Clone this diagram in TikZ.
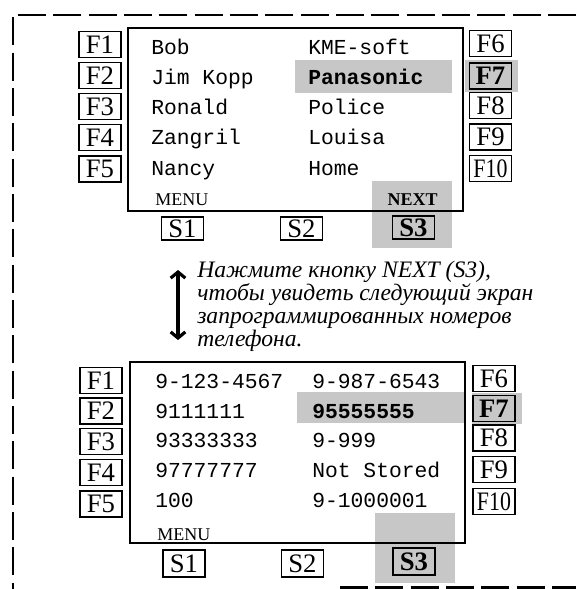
\documentclass[tikz,border=0pt]{standalone}
\usepackage{fontspec}
\setmainfont{Liberation Serif}
\setmonofont{Liberation Mono}
\usetikzlibrary{arrows.meta}
\begin{document}
\begin{tikzpicture}[x=0.75pt,y=-0.75pt,
  shadefill/.style={fill=black!22},
  screenbox/.style={draw,line width=1.8pt,inner sep=0pt},
  fkey/.style={draw,line width=1pt,inner sep=0pt,minimum width=31.5pt,minimum height=19.5pt,font=\fontsize{20}{20}\selectfont},
  skeyA/.style={draw,line width=1pt,inner sep=0pt,minimum width=31.5pt,minimum height=17.25pt,font=\fontsize{20}{20}\selectfont},
  skeyB/.style={draw,line width=1pt,inner sep=0pt,minimum width=31.5pt,minimum height=20.25pt,font=\fontsize{20}{20}\selectfont},
  mono/.style={anchor=base west,inner sep=0pt,font=\ttfamily\fontsize{16}{16}\selectfont},
  softlbl/.style={anchor=base west,inner sep=0pt,font=\fontsize{13.5}{13.5}\selectfont},
  note/.style={anchor=base west,inner sep=0pt,font=\itshape\fontsize{17.7}{17.7}\selectfont},
  frame/.style={line width=1.6pt,dash pattern=on 21pt off 5.5pt}
]
\useasboundingbox (0,0) rectangle (576,589);
% outer dashed frame
\draw[frame] (576,15) -- (13,15) -- (13,589);
\draw[frame] (340,587.5) -- (576,587.5);

% ---------- top screen ----------
\fill[shadefill] (295,60) rectangle (452,93);
\fill[shadefill] (465,60) rectangle (518,92);
\fill[shadefill] (372,181) rectangle (452,248);
\node[screenbox,minimum width=251.25pt,minimum height=137.25pt] (scrA) at (295.5,119.5) {};

\node[fkey] (aF1) at (100,44.5) {F1};
\node[fkey] (aF2) at (100,75.5) {F2};
\node[fkey] (aF3) at (100,106.5) {F3};
\node[fkey] (aF4) at (100,137.5) {F4};
\node[fkey] (aF5) at (100,169) {F5};
\node[fkey] (aF6) at (490.5,43.5) {F6};
\node[fkey] (aF7) at (490.5,76) {\bfseries F7};
\node[fkey] (aF8) at (490.5,105.5) {F8};
\node[fkey] (aF9) at (490.5,137) {F9};
\node[fkey] (aF10) at (490.5,168.5) {\scalebox{0.82}[1]{F10}};

\node[mono] (aL1) at (151,54) {Bob};
\node[mono] (aL2) at (151,84) {Jim Kopp};
\node[mono] (aL3) at (151,114) {Ronald};
\node[mono] (aL4) at (151,144) {Zangril};
\node[mono] (aL5) at (151,175) {Nancy};
\node[mono] (aR1) at (308,54) {KME-soft};
\node[mono] (aR2) at (308,84) {\bfseries Panasonic};
\node[mono] (aR3) at (308,114) {Police};
\node[mono] (aR4) at (308,144) {Louisa};
\node[mono] (aR5) at (308,175) {Home};
\node[softlbl] (aMenu) at (155,205) {MENU};
\node[softlbl,anchor=base east] (aNext) at (438,205) {\bfseries NEXT};

\node[skeyA] (aS1) at (182.5,228.5) {S1};
\node[skeyA] (aS2) at (301.5,228.5) {S2};
\node[skeyA] (aS3) at (413.5,227.5) {\bfseries S3};

% ---------- note ----------
\coordinate (arrTop) at (178,270);
\coordinate (arrBot) at (178,340);
\draw[line width=2.4pt,{Straight Barb[length=4.5pt,width=11pt]}-{Straight Barb[length=4.5pt,width=11pt]}] (arrTop) -- (arrBot);
\node[note] (n1) at (197,277) {Нажмите кнопку NEXT (S3),};
\node[note] (n2) at (197,300) {чтобы увидеть следующий экран};
\node[note] (n3) at (197,323) {запрограммированных номеров};
\node[note] (n4) at (197,346) {телефона.};

% ---------- bottom screen ----------
\fill[shadefill] (297,392) rectangle (465,423);
\fill[shadefill] (472,393) rectangle (522,424);
\fill[shadefill] (375,513) rectangle (455,583);
\node[screenbox,minimum width=251.25pt,minimum height=135.75pt] (scrB) at (297.5,452.5) {};

\node[fkey] (bF1) at (101,380.5) {F1};
\node[fkey] (bF2) at (101,411) {F2};
\node[fkey] (bF3) at (101,441.5) {F3};
\node[fkey] (bF4) at (101,472.5) {F4};
\node[fkey] (bF5) at (101,504) {F5};
\node[fkey] (bF6) at (494,378.5) {F6};
\node[fkey] (bF7) at (494,408.5) {\bfseries F7};
\node[fkey] (bF8) at (494,438) {F8};
\node[fkey] (bF9) at (494,469.5) {F9};
\node[fkey] (bF10) at (494,501.5) {\scalebox{0.82}[1]{F10}};

\node[mono] (bL1) at (155,388) {9-123-4567};
\node[mono] (bL2) at (155,418) {9111111};
\node[mono] (bL3) at (155,447) {93333333};
\node[mono] (bL4) at (155,477) {97777777};
\node[mono] (bL5) at (155,507) {100};
\node[mono] (bR1) at (312,388) {9-987-6543};
\node[mono] (bR2) at (312,418) {\bfseries 95555555};
\node[mono] (bR3) at (312,447) {9-999};
\node[mono] (bR4) at (312,477) {Not Stored};
\node[mono] (bR5) at (312,507) {9-1000001};
\node[softlbl] (bMenu) at (157,540) {MENU};

\node[skeyB] (bS1) at (184,563.5) {S1};
\node[skeyB] (bS2) at (302.5,563.5) {S2};
\node[skeyB] (bS3) at (414,561.5) {\bfseries S3};
\end{tikzpicture}
\end{document}
